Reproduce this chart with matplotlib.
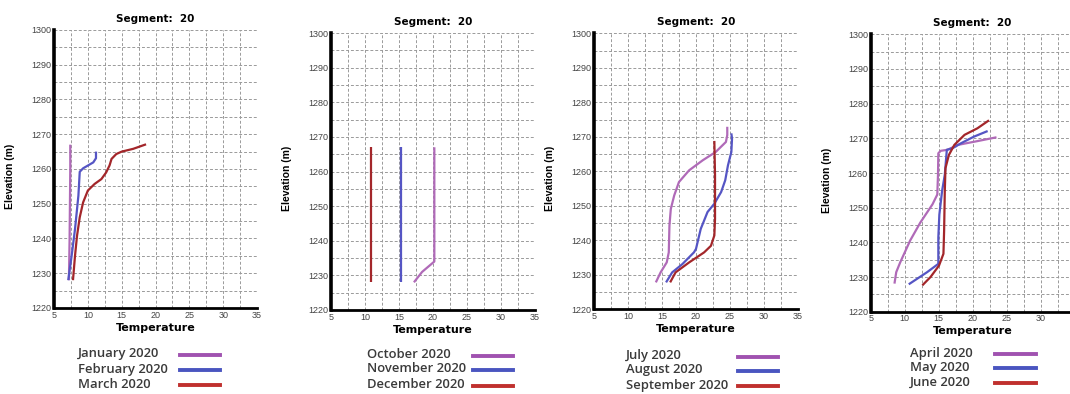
import matplotlib
matplotlib.use("Agg")
import matplotlib.pyplot as plt
from matplotlib.lines import Line2D
import numpy as np

# ---------------- data ----------------
title = "Segment:  20"
xlabel = "Temperature"
ylabel = "Elevation (m)"
xticks = [5, 10, 15, 20, 25, 30, 35]
yticks = [1220, 1230, 1240, 1250, 1260, 1270, 1280, 1290, 1300]

# Panel 1
jan_t = [7.2, 7.3, 7.35, 7.4, 7.4]
jan_z = [1228, 1240, 1250, 1260, 1267]
feb_t = [7.1, 7.6, 8.1, 8.6, 8.8, 9.3, 10.8, 11.2, 11.2]
feb_z = [1228, 1235, 1242.7, 1252.3, 1259.2, 1260.2, 1261.9, 1263.1, 1265]
mar_t = [7.8, 8.1, 8.4, 8.8, 9.3, 10.0, 11.0, 12.0, 12.7, 13.2, 13.5, 14.2, 15.0, 16.7, 18.6]
mar_z = [1228, 1235, 1240.8, 1246.1, 1250.4, 1253.8, 1255.7, 1257.1, 1259, 1261, 1262.9, 1264.3, 1265, 1265.8, 1267.1]

# Panel 2
oct_t = [17.2, 18.4, 20.2, 20.2]
oct_z = [1228, 1231, 1234, 1267]
nov_t = [15.25, 15.25]
nov_z = [1228, 1267]
dec_t = [10.85, 10.85]
dec_z = [1228, 1267]

# Panel 3
jul_t = [14.1, 14.8, 15.7, 16.0, 16.1, 16.3, 16.8, 17.5, 19.0, 21.0, 22.9, 24.4, 24.6, 24.6]
jul_z = [1227.8, 1230.7, 1233.6, 1236.5, 1244.3, 1249.1, 1253, 1256.9, 1260.3, 1263.2, 1265.6, 1268.5, 1270.5, 1272.9]
aug_t = [15.6, 16.5, 18.0, 19.7, 20.0, 20.7, 21.7, 22.7, 23.7, 24.3, 24.7, 25.2, 25.3, 25.2]
aug_z = [1227.8, 1230.7, 1233.1, 1236.5, 1237.5, 1243.3, 1248.2, 1250.6, 1254, 1257.4, 1261.7, 1265.6, 1269.5, 1271]
sep_t = [16.2, 17.0, 19.0, 21.2, 22.2, 22.7, 22.8, 22.8, 22.7]
sep_z = [1227.8, 1230.7, 1233.6, 1236.5, 1238.4, 1241.4, 1246.2, 1258.8, 1268.8]

# Panel 4
apr_t = [8.5, 8.76, 9.36, 10.8, 12.3, 14.1, 14.8, 14.9, 14.95, 15.3, 16.3, 17.8, 20.7, 23.5]
apr_z = [1228.1, 1231.4, 1234.3, 1240.5, 1245.7, 1251, 1253.8, 1259.5, 1265.7, 1266.4, 1266.7, 1268.1, 1269.2, 1270.3]
may_t = [10.6, 13.3, 14.95, 14.95, 15.1, 15.5, 15.9, 16.2, 17.0, 18.3, 20.2, 22.2]
may_z = [1227.9, 1231.4, 1233.8, 1241.4, 1248, 1254.8, 1259.5, 1266.7, 1267.1, 1268.6, 1270.5, 1272.1]
jun_t = [12.6, 13.8, 15.05, 15.7, 15.8, 15.9, 16.0, 16.5, 17.3, 18.8, 20.7, 22.4]
jun_z = [1227.6, 1230, 1233.3, 1236.7, 1243.3, 1254.8, 1261.4, 1265.2, 1268.1, 1271, 1272.9, 1275.2]

panels = [
    [("January 2020", jan_t, jan_z), ("February 2020", feb_t, feb_z), ("March 2020", mar_t, mar_z)],
    [("October 2020", oct_t, oct_z), ("November 2020", nov_t, nov_z), ("December 2020", dec_t, dec_z)],
    [("July 2020", jul_t, jul_z), ("August 2020", aug_t, aug_z), ("September 2020", sep_t, sep_z)],
    [("April 2020", apr_t, apr_z), ("May 2020", may_t, may_z), ("June 2020", jun_t, jun_z)],
]

# ---------------- style / layout ----------------
line_colors = ["#b06ab8", "#5555c4", "#a3262a"]
legend_colors = ["#a052b0", "#4a55c0", "#c0302e"]

W, H = 1070, 394
# axes rectangles in figure fraction [left, bottom, width, height]
rects = [
    [0.0505, 0.2183, 0.1897, 0.7056],
    [0.3093, 0.2132, 0.1907, 0.7030],
    [0.5551, 0.2150, 0.1907, 0.7005],
    [0.8137, 0.2089, 0.1907, 0.7040],
]
# legend layout in pixels from top-left: text x, line x0, line x1, row ys
legend_px = [
    (78, 180, 220, [354, 369, 384]),
    (367, 473, 513, [355, 369, 385]),
    (626, 738, 778, [356, 370, 385]),
    (910, 995, 1036, [353, 367, 382]),
]

fig = plt.figure(figsize=(W / 100, H / 100), dpi=100)

for i, (rect, series) in enumerate(zip(rects, panels)):
    ax = fig.add_axes(rect)
    for (lab, t, z), c in zip(series, line_colors):
        ax.plot(t, z, color=c, lw=1.6, solid_capstyle="butt")
    ax.set_xlim(5, 35)
    ax.set_ylim(1220, 1300)
    ax.set_xticks(xticks)
    ax.set_yticks(yticks)
    ax.set_xticks(np.arange(5, 35.1, 2.5), minor=True)
    ax.set_yticks(np.arange(1220, 1300.1, 5), minor=True)
    ax.grid(which="both", color="#9a9a9a", linestyle=(0, (3, 2)), linewidth=0.7)
    ax.set_axisbelow(True)
    for s in ["top", "right"]:
        ax.spines[s].set_visible(False)
    ax.spines["left"].set_linewidth(2.6)
    ax.spines["bottom"].set_linewidth(2.0)
    ax.tick_params(which="both", length=0, pad=2, labelsize=6.5, labelcolor="#444444")
    for lbl in ax.get_xticklabels() + ax.get_yticklabels():
        lbl.set_family("Liberation Sans")
    ax.set_title(title, fontsize=7.5, fontweight="bold", pad=6, family="DejaVu Sans")
    ax.set_xlabel(xlabel, fontsize=8, fontweight="bold", labelpad=2, family="DejaVu Sans")
    ax.set_ylabel(ylabel, fontsize=7.5, fontweight="bold", family="Liberation Sans")
    axw_px = rect[2] * W
    ax.yaxis.set_label_coords(-39 / axw_px, 0.475)

    tx, lx0, lx1, ys = legend_px[i]
    for (lab, _, _), c, y in zip(series, legend_colors, ys):
        fig.text(tx / W, 1 - y / H, lab, ha="left", va="center",
                 family="Open Sans", fontsize=9.4, fontweight="semibold", color="#3a3a3a")
        fig.add_artist(Line2D([lx0 / W, lx1 / W], [1 - (y + 1) / H, 1 - (y + 1) / H],
                              transform=fig.transFigure, color=c, lw=2.8))

fig.savefig("out.png", dpi=100)
